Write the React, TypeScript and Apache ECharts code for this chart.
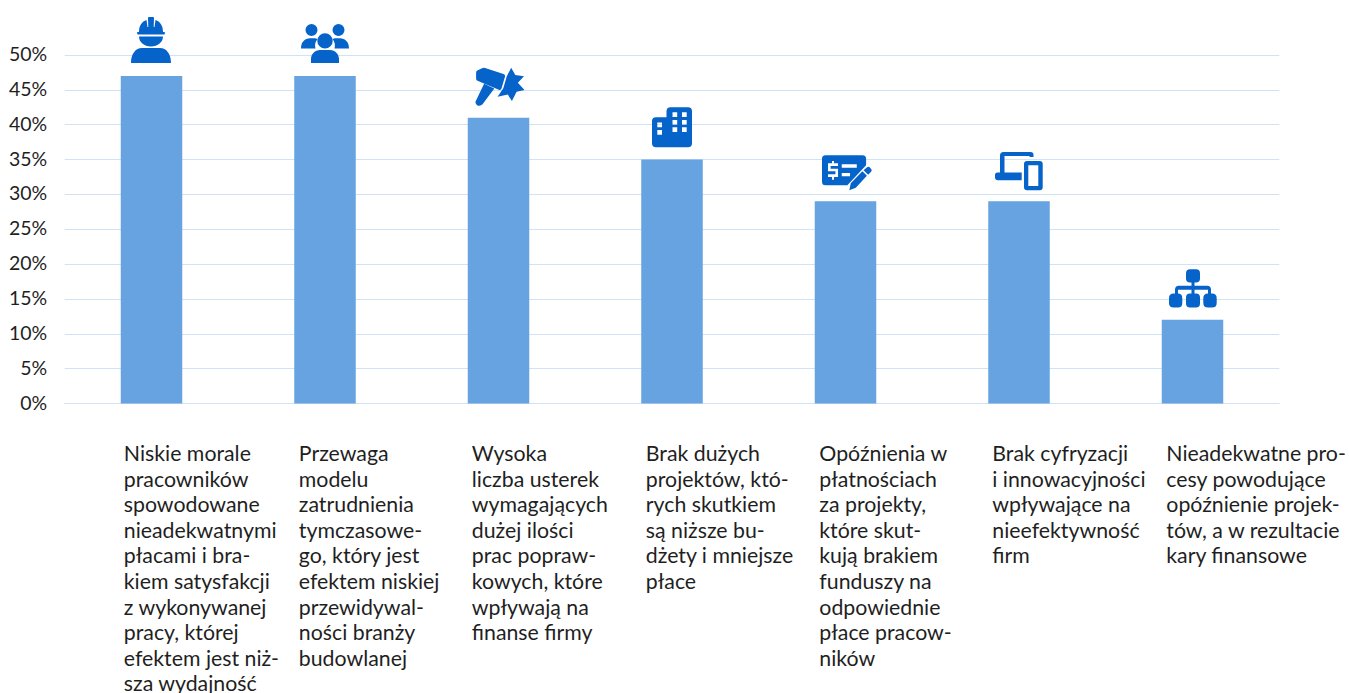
import React, { useEffect, useRef } from "react";
import * as echarts from "echarts";

const FONT = "Lato";
const TEXT_COLOR = "#1f1f1f";
const BAR_COLOR = "#66a3e0";
const ICON_COLOR = "#0563c9";
const GRID_COLOR = "#d0e2f5";

const categories = [
  "Niskie morale\npracowników\nspowodowane\nnieadekwatnymi\npłacami i bra-\nkiem satysfakcji\nz wykonywanej\npracy, której\nefektem jest niż-\nsza wydajność",
  "Przewaga\nmodelu\nzatrudnienia\ntymczasowe-\ngo, który jest\nefektem niskiej\nprzewidywal-\nności branży\nbudowlanej",
  "Wysoka\nliczba usterek\nwymagających\ndużej ilości\nprac popraw-\nkowych, które\nwpływają na\nfinanse firmy",
  "Brak dużych\nprojektów, któ-\nrych skutkiem\nsą niższe bu-\ndżety i mniejsze\npłace",
  "Opóźnienia w\npłatnościach\nza projekty,\nktóre skut-\nkują brakiem\nfunduszy na\nodpowiednie\npłace pracow-\nników",
  "Brak cyfryzacji\ni innowacyjności\nwpływające na\nnieefektywność\nfirm",
  "Nieadekwatne pro-\ncesy powodujące\nopóźnienie projek-\ntów, a w rezultacie\nkary finansowe",
];
const percentages = [47, 47, 41, 35, 29, 29, 12];

// Pictograms above each bar: outline, size, and placement relative to the bar's top centre.
const icons = [
  {
    // construction worker
    d: "M8 15C8 8.5 11 4.5 15.5 3L16.5 10L17.3 10L17 1Q17 0 18 0L22 0Q23 0 23 1L22.7 10L23.5 10L24.5 3C29 4.5 32 8.5 32 15L33 15Q34 15 34 16.2Q34 17.5 33 17.5L7 17.5Q6 17.5 6 16.2Q6 15 7 15ZM8 19.5L32 19.5C32 25 27 29.5 20 29.5C13 29.5 8 25 8 19.5ZM0 46C0 37 4.5 31 11 31L29 31C35.5 31 40 37 40 46Z",
    w: 40, h: 46, dx: -20.5, dy: -59,
  },
  {
    // team of people
    d: "M4.5 6A6 6 0 1 1 16.5 6A6 6 0 1 1 4.5 6ZM31.5 6A6 6 0 1 1 43.5 6A6 6 0 1 1 31.5 6ZM16.3 17A7.7 7.7 0 1 1 31.7 17A7.7 7.7 0 1 1 16.3 17ZM10 39L10 35C10 30 14 26 19 26L29 26C34 26 38 30 38 35L38 39ZM0 24.5C0 18 4 14.3 9 14.3L13 14.3C14.5 14.3 15.5 14.6 16.5 15.2C14.2 18 13.5 21.5 14.5 24.5ZM48 24.5C48 18 44 14.3 39 14.3L35 14.3C33.5 14.3 32.5 14.6 31.5 15.2C33.8 18 34.5 21.5 33.5 24.5Z",
    w: 48, h: 39, dx: -24, dy: -52,
  },
  {
    // hammer striking a spark
    d: "M1.2 5Q1.2 3.7 2.4 3.1L7 0.9Q8.5 0.1 10 0.6L28 6.4Q30 7.1 29.4 9.2L26 20.6Q25.4 22.6 23.4 21.8L2.6 13Q1.2 12.4 1.2 11ZM9 16L19 20.5L7.5 36Q5.5 38 2.5 37Q0 35.5 0.8 33ZM35.5 0.3L39.5 7.5L48 8.7L42 15L48.5 22L40.8 23.7L36.2 32.7L32.2 26.5L22.2 28.7L27.8 20.3L31.2 8.7Z",
    w: 49, h: 38, dx: -23, dy: -50,
  },
  {
    // office buildings
    d: "M4 40Q0 40 0 36L0 14Q0 10 4 10L14.5 10L14.5 4Q14.5 0 18.5 0L36 0Q40 0 40 4L40 36Q40 40 36 40ZM20.5 5L20.5 9.7L25.2 9.7L25.2 5ZM30 5L30 9.7L34.7 9.7L34.7 5ZM20.5 12.7L20.5 17.4L25.2 17.4L25.2 12.7ZM30 12.7L30 17.4L34.7 17.4L34.7 12.7ZM20.5 20L20.5 24.7L25.2 24.7L25.2 20ZM30 20L30 24.7L34.7 24.7L34.7 20ZM5.3 15.3L5.3 20L10 20L10 15.3ZM5.3 22.7L5.3 27.4L10 27.4L10 22.7Z",
    w: 40, h: 40, dx: -20, dy: -52.3,
  },
  {
    // cheque with a pen
    d: "M3.5 0L40.5 0Q44 0 44 3.5L44 10L25.3 30L3.5 30Q0 30 0 26.5L0 3.5Q0 0 3.5 0ZM16 8L6 8L6 16L13.4 16L13.4 19L6 19L6 21.6L16 21.6L16 13.4L8.6 13.4L8.6 10.6L16 10.6ZM10 5.7L10 8L12 8L12 5.7ZM10 21.6L10 24.3L12 24.3L12 21.6ZM19.7 9L19.7 12.3L34.7 12.3L34.7 9ZM19.7 17.7L19.7 21L28 21L28 17.7ZM41.5 14.8L45 11.8Q46.5 11 47.5 12L49.3 14Q50 15.3 49 16.3L46 19.3ZM40.3 16L44.8 20.5L33.7 32.3L27.3 35L28.7 28Z",
    w: 49.7, h: 35, dx: -23.5, dy: -46,
  },
  {
    // laptop and phone
    d: "M8.5 0L35.5 0Q38.5 0 38.5 3L38.5 5L34.5 5L34.5 4L9.5 4L9.5 20.5L26.7 20.5L26.7 28.3L3 28.3Q0 28.3 0 25.3L0 23Q0 20.5 2.5 20.5L5 20.5L5 3.5Q5 0 8.5 0ZM32 9L44.7 9Q47.7 9 47.7 12L47.7 35.3Q47.7 38.3 44.7 38.3L32 38.3Q29 38.3 29 35.3L29 12Q29 9 32 9ZM33.3 13.3L33.3 34L43.3 34L43.3 13.3Z",
    w: 47.7, h: 38.3, dx: -24, dy: -49.3,
  },
  {
    // organisation tree
    d: "M21 0L27 0Q31 0 31 4L31 9.4Q31 13.4 27 13.4L25.5 13.4L25.5 16.7L38 16.7Q42 16.7 42 20.7L42 24.4L43 24.4Q47.7 24.4 47.7 29L47.7 33.8Q47.7 38.4 43 38.4L39 38.4Q34.3 38.4 34.3 33.8L34.3 29Q34.3 24.4 39 24.4L39 20.7L25.5 20.7L25.5 24.4L27 24.4Q31 24.4 31 28.4L31 34.4Q31 38.4 27 38.4L21 38.4Q17 38.4 17 34.4L17 28.4Q17 24.4 21 24.4L22.5 24.4L22.5 20.7L9 20.7L9 24.4L9 24.4Q13.3 24.4 13.3 29L13.3 33.8Q13.3 38.4 9 38.4L4.6 38.4Q0 38.4 0 33.8L0 29Q0 24.4 4.6 24.4L6 24.4L6 20.7Q6 16.7 10 16.7L22.5 16.7L22.5 13.4L21 13.4Q17 13.4 17 9.4L17 4Q17 0 21 0Z",
    w: 47.7, h: 38.4, dx: -23.5, dy: -50.7,
  },
];

// Left edge of each description block, measured from its category's centre.
const labelInsets = [-27.7, -26.2, -26.7, -26.2, -26.2, -26.7, -26.2];
const LABEL_DY = 36.7;

export default function App() {
  const ref = useRef<HTMLDivElement>(null);

  useEffect(() => {
    const chart = echarts.init(ref.current!, null, { renderer: "svg" });
    chart.setOption({
      animation: false,
      backgroundColor: "#ffffff",
      textStyle: { fontFamily: FONT },
      grid: { left: 64.75, right: 69.75, top: 55, bottom: 289.5 },
      xAxis: {
        type: "category",
        data: categories,
        axisLine: { show: true, lineStyle: { color: GRID_COLOR, width: 1 } },
        axisTick: { show: false },
        axisLabel: { show: false },
      },
      yAxis: {
        type: "value",
        min: 0,
        max: 50,
        interval: 5,
        axisLine: { show: false },
        axisTick: { show: false },
        splitLine: { lineStyle: { color: GRID_COLOR, width: 1 } },
        axisLabel: {
          formatter: "{value}%",
          fontFamily: FONT,
          fontSize: 19.5,
          color: TEXT_COLOR,
          margin: 17.5,
          verticalAlign: "bottom",
          lineHeight: 3,
        },
      },
      series: [
        {
          type: "bar",
          data: percentages,
          barWidth: 61.5,
          itemStyle: { color: BAR_COLOR },
        },
        {
          // Icon above each bar and the multi-line description under the axis.
          type: "custom",
          data: percentages.map((v, i) => [i, v]),
          encode: { x: 0, y: 1 },
          z: 5,
          silent: true,
          renderItem: (params: any, api: any) => {
            const i = api.value(0) as number;
            const top = api.coord([i, api.value(1)]);
            const base = api.coord([i, 0]);
            const icon = icons[i];
            return {
              type: "group",
              children: [
                {
                  type: "path",
                  shape: {
                    pathData: icon.d,
                    x: top[0] + icon.dx,
                    y: top[1] + icon.dy,
                    width: icon.w,
                    height: icon.h,
                    layout: "cover",
                  },
                  style: { fill: ICON_COLOR },
                },
                {
                  type: "text",
                  x: base[0] + labelInsets[i],
                  y: base[1] + LABEL_DY,
                  style: {
                    text: categories[i],
                    fontFamily: FONT,
                    fontSize: 21.3,
                    lineHeight: 25.6,
                    fill: TEXT_COLOR,
                    align: "left",
                    verticalAlign: "top",
                  },
                },
              ],
            };
          },
        },
      ],
    });
    return () => chart.dispose();
  }, []);

  return (
    <div
      ref={ref}
      style={{ position: "absolute", left: 0, top: 0, width: 1349, height: 693 }}
    />
  );
}
